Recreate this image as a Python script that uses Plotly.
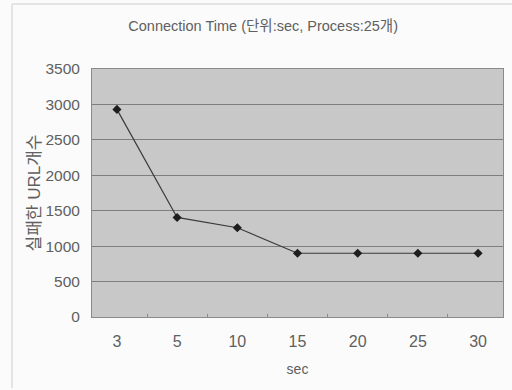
import plotly.graph_objects as go

categories = ["3", "5", "10", "15", "20", "25", "30"]
failed_urls = [2930, 1405, 1260, 900, 900, 900, 900]
y_ticks = [0, 500, 1000, 1500, 2000, 2500, 3000, 3500]

title_text = "Connection Time (단위:sec, Process:25개)"
x_title = "sec"
y_title = "실패한 URL개수"

FONT = "Liberation Sans, Arial, Noto Sans CJK KR, sans-serif"
TXT = "#606060"

fig = go.Figure()
fig.add_trace(go.Scatter(
    x=categories, y=failed_urls, mode="lines+markers",
    line=dict(color="#3a3a3a", width=1.2),
    marker=dict(symbol="diamond", size=7, color="#1e1e1e"),
    showlegend=False, hoverinfo="x+y",
))

fig.update_layout(
    width=512, height=390,
    margin=dict(l=92, r=9, t=69, b=73),
    paper_bgcolor="#fbfbfb",
    plot_bgcolor="#c8c8c8",
    font=dict(family=FONT, color=TXT, size=14),
    title=dict(text=title_text, x=0.514, xanchor="center", y=1 - 26/390, yanchor="middle",
               font=dict(size=14.5, color=TXT, family=FONT)),
    xaxis=dict(
        type="category", showgrid=False, showline=True, linecolor="#8a8a8a", linewidth=1,
        mirror=True, ticks="inside", ticklen=3, tickcolor="#8a8a8a", tickson="boundaries",
        ticklabelstandoff=10,
        tickfont=dict(size=16, color=TXT), title=dict(text=x_title, standoff=14,
        font=dict(size=14, color=TXT)), zeroline=False,
    ),
    yaxis=dict(
        range=[0, 3500], tickvals=y_ticks, showgrid=True, gridcolor="#7e7e7e", gridwidth=1,
        showline=True, linecolor="#8a8a8a", linewidth=1, mirror=True, ticks="",
        ticklabelstandoff=8, tickfont=dict(size=15.5, color=TXT), zeroline=False,
        title=dict(text=y_title, standoff=0, font=dict(size=17, color=TXT)),
    ),
    shapes=[
        dict(type="line", xref="paper", yref="paper",
             x0=-80/411, x1=-80/411, y0=-71/248, y1=1 + 65/248,
             line=dict(color="#dcdcdc", width=1.5)),
        dict(type="line", xref="paper", yref="paper",
             x0=-80/411, x1=1 + 9/411, y0=1 + 65/248, y1=1 + 65/248,
             line=dict(color="#dcdcdc", width=1.5)),
    ],
)

fig.write_html("out.html")
